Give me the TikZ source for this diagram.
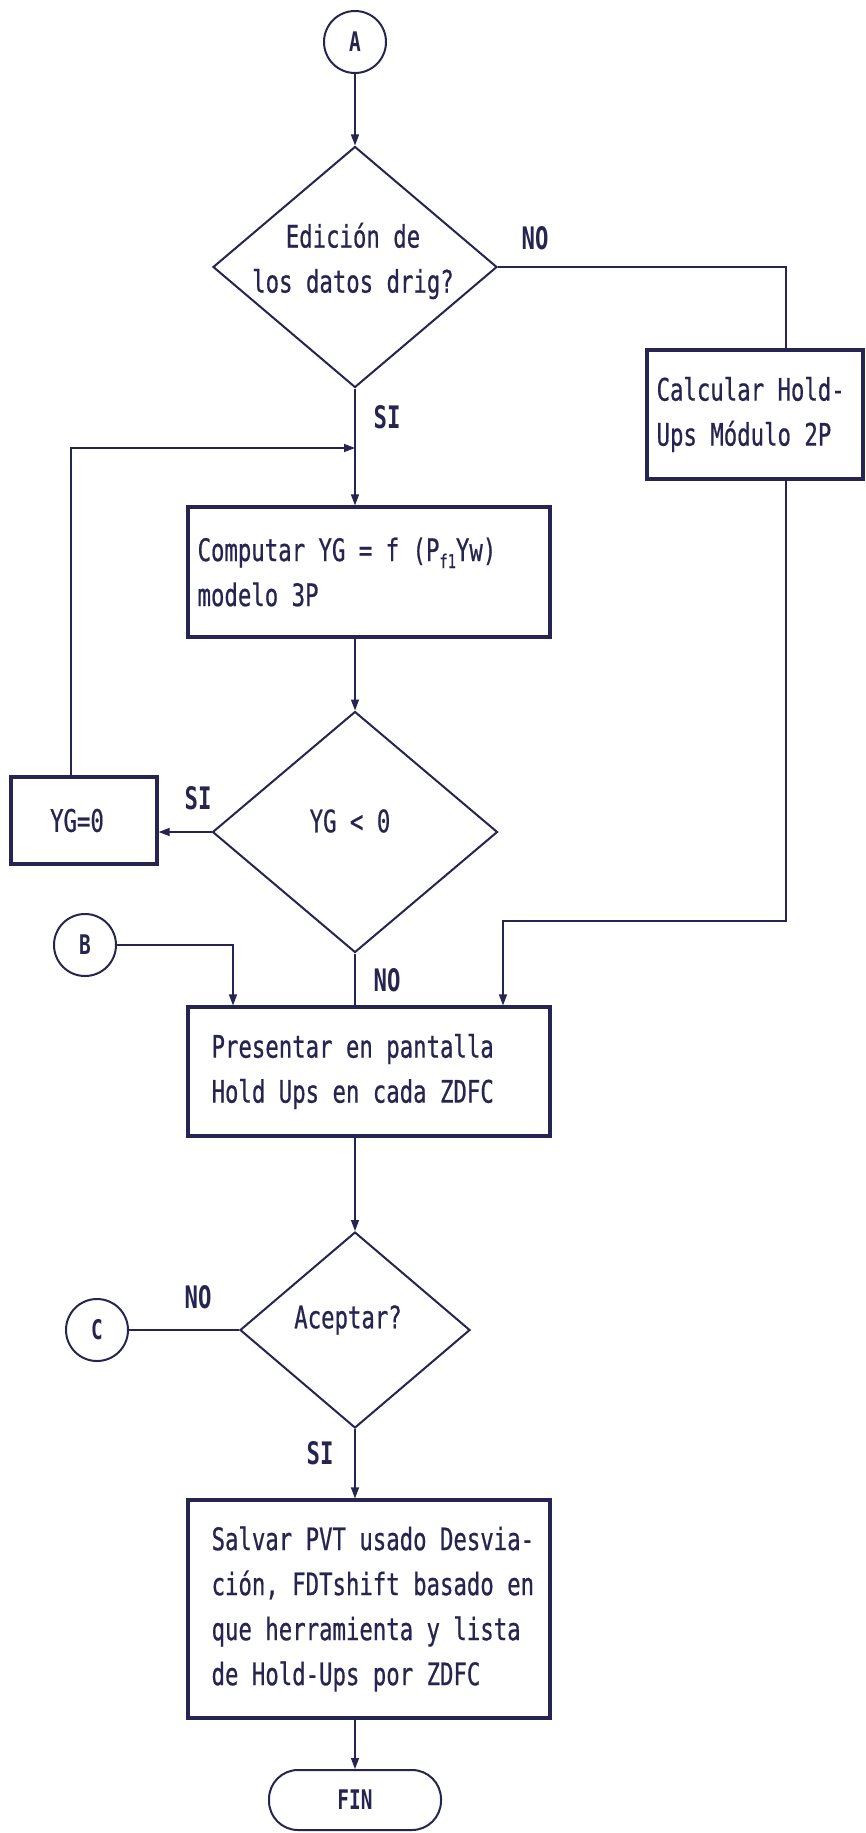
\documentclass[tikz,border=0pt]{standalone}
\usepackage{fontspec}
\usetikzlibrary{shapes.geometric,arrows.meta}
\newfontfamily\fc[FakeStretch=0.72,FakeBold=0.6]{DejaVu Sans Mono}
\newfontfamily\fcl[FakeStretch=0.72]{DejaVu Sans Mono}
\definecolor{ink}{RGB}{38,36,80}
\begin{document}
\begin{tikzpicture}[x=1pt,y=-1pt,
  line/.style={draw=ink, line width=1.4pt},
  arr/.style={line, -{Triangle[length=11pt,width=8pt]}},
  box/.style={draw=ink, line width=3.2pt, rectangle, inner sep=0pt},
  dia/.style={draw=ink, line width=2pt, diamond, inner sep=0pt},
  circ/.style={draw=ink, line width=2pt, circle, inner sep=0pt, minimum size=62pt, font=\fontsize{27}{27}\selectfont\fcl\bfseries, text=ink},
  txt/.style={font=\fontsize{31}{45}\selectfont\fc, text=ink, inner sep=0pt},
  lbl/.style={font=\fontsize{31}{31}\selectfont\fcl\bfseries, text=ink, inner sep=0pt},
  term/.style={draw=ink, line width=2pt, rounded corners=29pt, minimum width=172pt, minimum height=60pt, inner sep=0pt, font=\fontsize{27}{27}\selectfont\fcl\bfseries, text=ink}
]
\fill[white] (0,0) rectangle (866,1833);
\useasboundingbox (0,0) rectangle (866,1833);

% shapes
\node[circ] (A) at (355,42) {A};
\node[dia, minimum width=284pt, minimum height=241pt] (d1) at (355,267) {};
\node[box, minimum width=216pt, minimum height=129pt] (calc) at (755,414.5) {};
\node[box, minimum width=362pt, minimum height=130pt] (comp) at (369,572) {};
\node[dia, minimum width=285pt, minimum height=241pt] (d2) at (355,832) {};
\node[box, minimum width=146pt, minimum height=87pt] (yg) at (84,820.5) {};
\node[circ] (B) at (85,945) {B};
\node[box, minimum width=362pt, minimum height=129pt] (pres) at (369,1071.5) {};
\node[dia, minimum width=230pt, minimum height=196pt] (d3) at (355,1330) {};
\node[circ] (C) at (97,1330) {C};
\node[box, minimum width=362pt, minimum height=218pt] (salv) at (369,1609) {};
\node[term] (fin) at (355,1800) {FIN};

% texts
\node[txt, align=center] (d1t) at (353,261) {Edición de\\los datos drig?};
\node[txt] (d2t) at (350,821) {YG < 0};
\node[txt] (d3t) at (348,1320) {Aceptar?};
\node[txt, anchor=west, align=left] (calct) at ([xshift=11pt]calc.west) {Calcular Hold-\\Ups Módulo 2P};
\node[txt, anchor=west, align=left] (compt) at ([xshift=11pt]comp.west) {Computar YG = f (P\raisebox{-7pt}{\fontsize{19}{19}\selectfont f1}Yw)\\modelo 3P};
\node[txt] (ygt) at ([xshift=-7pt]yg.center) {YG=0};
\node[txt, anchor=west, align=left] (prest) at ([xshift=25pt]pres.west) {Presentar en pantalla\\Hold Ups en cada ZDFC};
\node[txt, anchor=west, align=left] (salvt) at ([xshift=25pt]salv.west) {Salvar PVT usado Desvia-\\ción, FDTshift basado en\\que herramienta y lista\\de Hold-Ups por ZDFC};

% labels
\node[lbl] (l1) at (535,238) {NO};
\node[lbl] (l2) at (387,417) {SI};
\node[lbl] (l3) at (198,798) {SI};
\node[lbl] (l4) at (387,980) {NO};
\node[lbl] (l5) at (198,1297) {NO};
\node[lbl] (l6) at (320,1453) {SI};

% connectors
\coordinate (j1) at (355,448);
\coordinate (k1) at (503,921);
\draw[arr] (A.south) -- (d1.north);
\draw[line] (d1.east) -| ([xshift=31pt]calc.north);
\draw[arr] (d1.south) -- (d1.south |- comp.north);
\draw[arr] (d2.north |- comp.south) -- (d2.north);
\draw[arr] (d2.west) -- (d2.west -| yg.east);
\draw[arr] ([xshift=-13pt]yg.north) |- (j1);
\draw[line] (d2.south) -- (d2.south |- pres.north);
\draw[arr] ([xshift=31pt]calc.south) |- (k1) -- (k1 |- pres.north);
\draw[arr] (B.east) -| ([xshift=-136pt]pres.north);
\draw[arr] (d3.north |- pres.south) -- (d3.north);
\draw[line] (C.east) -- (d3.west);
\draw[arr] (d3.south) -- (d3.south |- salv.north);
\draw[arr] (fin.north |- salv.south) -- (fin.north);
\end{tikzpicture}
\end{document}
